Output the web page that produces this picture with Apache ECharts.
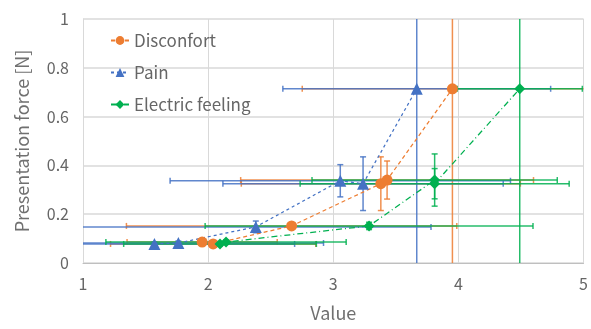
<!DOCTYPE html>
<html>
<head>
<meta charset="utf-8">
<script src="https://cdn.jsdelivr.net/npm/echarts@6/dist/echarts.min.js"></script>
<style>html,body{margin:0;padding:0;background:#fff;}#c{width:591px;height:329px;}</style>
</head>
<body>
<div id="c"></div>
<script>
// ---- data ----
const seriesNames = ['Disconfort', 'Pain', 'Electric feeling'];
const xTicks = [1, 2, 3, 4, 5];
const yTicks = [0, 0.2, 0.4, 0.6, 0.8, 1];

const discX    = [1.952, 2.040, 2.667, 3.380, 3.430, 3.952];
const discY    = [0.086, 0.078, 0.152, 0.325, 0.340, 0.714];
const discXErr = [0.60, 0.82, 1.32, 1.115, 1.17, 1.20];
const discYErr = [0.008, 0.008, 0.01, 0.11, 0.078, 1.0];

const painX    = [1.571, 1.762, 2.381, 3.056, 3.238, 3.667];
const painY    = [0.078, 0.082, 0.148, 0.337, 0.325, 0.714];
const painXErr = [1.12, 1.16, 1.40, 1.36, 1.12, 1.07];
const painYErr = [0.008, 0.008, 0.024, 0.066, 0.11, 1.0];

const elecX    = [2.095, 2.143, 3.286, 3.810, 3.810, 4.490];
const elecY    = [0.078, 0.086, 0.152, 0.340, 0.325, 0.714];
const elecXErr = [0.77, 0.96, 1.31, 0.98, 1.075, 0.50];
const elecYErr = [0.008, 0.008, 0.015, 0.107, 0.062, 1.0];

const colors = ['#ED7D31', '#4472C4', '#00B050'];

// ---- build ----
function pts(xs, ys) { return xs.map((x, i) => [x, ys[i]]); }
function errRows(xs, ys, xe, ye) { return xs.map((x, i) => [x, ys[i], xe[i], ye[i]]); }

const X0 = 1, X1 = 5, Y0 = 0, Y1 = 1;
function clampX(v) { return Math.max(X0, Math.min(X1, v)); }
function clampY(v) { return Math.max(Y0, Math.min(Y1, v)); }

function errRender(color) {
  return function (params, api) {
    const x = api.value(0), y = api.value(1), xe = api.value(2), ye = api.value(3);
    const cap = 3;
    const children = [];
    const style = { stroke: color, lineWidth: 1.5, opacity: 0.85 };
    const xl = x - xe, xr = x + xe;
    const pl = api.coord([clampX(xl), y]);
    const pr = api.coord([clampX(xr), y]);
    children.push({ type: 'line', shape: { x1: pl[0], y1: pl[1], x2: pr[0], y2: pr[1] }, style: style });
    if (xl >= X0) children.push({ type: 'line', shape: { x1: pl[0], y1: pl[1] - cap, x2: pl[0], y2: pl[1] + cap }, style: style });
    if (xr <= X1) children.push({ type: 'line', shape: { x1: pr[0], y1: pr[1] - cap, x2: pr[0], y2: pr[1] + cap }, style: style });
    const yb = y - ye, yt = y + ye;
    const pb = api.coord([x, clampY(yb)]);
    const pt = api.coord([x, clampY(yt)]);
    children.push({ type: 'line', shape: { x1: pb[0], y1: pb[1], x2: pt[0], y2: pt[1] }, style: style });
    if (yb >= Y0) children.push({ type: 'line', shape: { x1: pb[0] - cap, y1: pb[1], x2: pb[0] + cap, y2: pb[1] }, style: style });
    if (yt <= Y1) children.push({ type: 'line', shape: { x1: pt[0] - cap, y1: pt[1], x2: pt[0] + cap, y2: pt[1] }, style: style });
    return { type: 'group', children: children };
  };
}

const font = '"Noto Sans CJK JP", "Noto Sans", sans-serif';
const diamond = 'path://M0,-1L1,0L0,1L-1,0Z';

const chart = echarts.init(document.getElementById('c'), null, { renderer: 'canvas' });
chart.setOption({
  animation: false,
  backgroundColor: '#fff',
  textStyle: { fontFamily: font },
  grid: { left: 83, right: 4, top: 19, bottom: 66, containLabel: false },
  legend: {
    orient: 'vertical', left: 105, top: 27,
    itemWidth: 18, itemHeight: 11, itemGap: 15,
    data: seriesNames,
    textStyle: { fontSize: 17, color: '#666666', fontFamily: font }
  },
  xAxis: {
    type: 'value', min: X0, max: X1, interval: 1,
    name: 'Value', nameLocation: 'middle', nameGap: 41,
    nameTextStyle: { fontSize: 18, color: '#707070', fontFamily: font },
    axisLine: { show: true, lineStyle: { color: '#BFBFBF', width: 1 } },
    axisTick: { show: false },
    axisLabel: { fontSize: 16, color: '#666666', margin: 13, fontFamily: font,
      formatter: v => xTicks.includes(v) ? String(v) : '' },
    splitLine: { show: true, lineStyle: { color: '#D9D9D9', width: 1 } }
  },
  yAxis: {
    type: 'value', min: Y0, max: Y1, interval: 0.2,
    name: 'Presentation force [N]', nameLocation: 'middle', nameGap: 52,
    nameTextStyle: { fontSize: 18, color: '#707070', fontFamily: font },
    axisLine: { show: true, lineStyle: { color: '#D9D9D9', width: 1 } },
    axisTick: { show: false },
    axisLabel: { fontSize: 16, color: '#666666', margin: 14, fontFamily: font,
      formatter: v => { const t = yTicks.find(k => Math.abs(k - v) < 1e-9); return t === undefined ? '' : String(t); } },
    splitLine: { show: true, lineStyle: { color: '#D9D9D9', width: 1.5 } }
  },
  series: [
    { type: 'custom', name: 'errDisc', renderItem: errRender(colors[0]), data: errRows(discX, discY, discXErr, discYErr), z: 1, clip: true, silent: true },
    { type: 'custom', name: 'errPain', renderItem: errRender(colors[1]), data: errRows(painX, painY, painXErr, painYErr), z: 1, clip: true, silent: true },
    { type: 'custom', name: 'errElec', renderItem: errRender(colors[2]), data: errRows(elecX, elecY, elecXErr, elecYErr), z: 1, clip: true, silent: true },
    { type: 'line', name: seriesNames[0], data: pts(discX, discY), symbol: 'circle', symbolSize: 11,
      itemStyle: { color: colors[0] }, lineStyle: { color: colors[0], width: 1.25, type: [4, 3] }, z: 3 },
    { type: 'line', name: seriesNames[1], data: pts(painX, painY), symbol: 'triangle', symbolSize: 12,
      itemStyle: { color: colors[1] }, lineStyle: { color: colors[1], width: 1.25, type: [3, 3] }, z: 3 },
    { type: 'line', name: seriesNames[2], data: pts(elecX, elecY), symbol: diamond, symbolSize: 11,
      itemStyle: { color: colors[2] }, lineStyle: { color: colors[2], width: 1.25, type: [6, 3, 1, 3] }, z: 3 }
  ]
});
</script>
</body>
</html>
